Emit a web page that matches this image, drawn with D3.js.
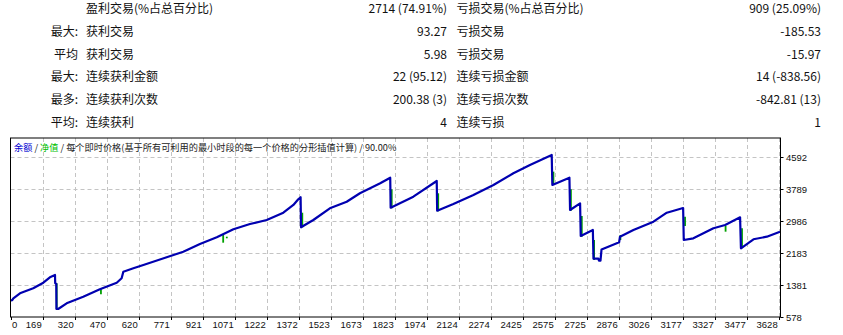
<!DOCTYPE html>
<html>
<head>
<meta charset="utf-8">
<script src="https://cdn.jsdelivr.net/npm/d3@7"></script>
<style>
  body { margin: 0; background: #fff; }
  svg { display: block; font-family: "Noto Sans CJK SC", "Noto Sans", sans-serif; }
</style>
</head>
<body>
<div id="report"></div>
<script>
  // stats table
  const rowPrefix = ['', '最大:', '平均', '最大:', '最多:', '平均:'];
  const winLabels = ['盈利交易(%占总百分比)', '获利交易', '获利交易', '连续获利金额', '连续获利次数', '连续获利'];
  const winValues = ['2714 (74.91%)', '93.27', '5.98', '22 (95.12)', '200.38 (3)', '4'];
  const lossLabels = ['亏损交易(%占总百分比)', '亏损交易', '亏损交易', '连续亏损金额', '连续亏损次数', '连续亏损'];
  const lossValues = ['909 (25.09%)', '-185.53', '-15.97', '14 (-838.56)', '-842.81 (13)', '1'];

  // axes
  const xTicks = [0, 169, 320, 470, 620, 771, 921, 1071, 1222, 1372, 1523, 1673, 1823, 1974,
    2124, 2274, 2425, 2575, 2725, 2876, 3026, 3177, 3327, 3477, 3628];
  const yTicks = [578, 1381, 2183, 2986, 3789, 4592];

  // balance curve [trade, value]
  const balance = [
    [0, 1000], [8, 1010], [14, 1055], [49, 1180], [119, 1306], [172, 1446], [203, 1582], [227, 1639],
    [228, 1431], [233, 1420], [234, 786], [242, 786], [282, 929], [360, 1095], [438, 1280], [517, 1446],
    [540, 1557], [548, 1722], [595, 1807], [642, 1890], [752, 2083], [830, 2224], [908, 2417], [987, 2585],
    [1065, 2786], [1143, 2919], [1222, 3019], [1300, 3202], [1347, 3396], [1370, 3539], [1381, 3589],
    [1383, 2836], [1441, 3019], [1519, 3312], [1598, 3478], [1660, 3689], [1755, 3940], [1802, 4081],
    [1804, 3328], [1911, 3604], [2021, 3998], [2023, 3253], [2099, 3421], [2193, 3647], [2287, 3897],
    [2381, 4191], [2459, 4399], [2561, 4650], [2564, 3897], [2644, 4081], [2647, 3270], [2694, 3438],
    [2697, 2618], [2754, 2768], [2757, 2050], [2780, 2050], [2783, 2000], [2790, 2000], [2795, 2280],
    [2867, 2435], [2878, 2460], [2882, 2600], [2945, 2768], [3039, 2977], [3102, 3202], [3179, 3320],
    [3182, 2517], [3227, 2560], [3321, 2811], [3376, 2894], [3446, 3087], [3450, 2309], [3509, 2535],
    [3572, 2600], [3634, 2726]
  ];

  // equity dips below balance [trade, from, to]
  const equityDips = [
    [235, 1431, 786], [443, 1280, 1155], [1017, 2642, 2450], [1034, 2600, 2560], [1389, 3202, 2836],
    [1809, 3790, 3313], [2028, 3689, 3236], [2569, 4232, 3897], [2651, 3790, 3253], [2702, 3120, 2600],
    [2760, 2517, 2016], [2884, 2643, 2517], [3188, 3102, 2869], [3378, 2869, 2726], [3455, 2811, 2309]
  ];

  const Report = {
    render() {
      const width = 843, height = 335;
      const svg = d3.select('#report').append('svg')
        .attr('width', width)
        .attr('height', height);

      // --- table ---
      const rowY = i => 8.5 + i * 22.85;
      const table = svg.append('g')
        .style('font-size', '12px')
        .style('fill', '#111');

      const cols = [
        { data: rowPrefix, x: 78, anchor: 'end' },
        { data: winLabels, x: 86, anchor: 'start' },
        { data: winValues, x: 447, anchor: 'end' },
        { data: lossLabels, x: 456.5, anchor: 'start' },
        { data: lossValues, x: 821, anchor: 'end' }
      ];
      cols.forEach(c => {
        table.selectAll(null)
          .data(c.data)
          .enter()
          .append('text')
          .attr('x', c.x)
          .attr('y', (d, i) => rowY(i))
          .attr('dy', '0.36em')
          .attr('text-anchor', c.anchor)
          .text(d => d);
      });

      // --- chart ---
      const box = { left: 10.5, top: 138, right: 780.5, bottom: 317 };
      const x = d3.scaleLinear()
        .domain(xTicks)
        .range(xTicks.map((d, i) => 10.7 + i * 32));
      const y = d3.scaleLinear()
        .domain([578, 4592])
        .range([317.3, 157.3]);

      const g = svg.append('g');

      // grid
      g.selectAll('.vgrid')
        .data(xTicks.slice(1))
        .enter()
        .append('line')
        .attr('x1', d => Math.round(x(d)) + 0.5)
        .attr('x2', d => Math.round(x(d)) + 0.5)
        .attr('y1', box.top)
        .attr('y2', box.bottom)
        .attr('stroke', '#c4c4c4')
        .attr('stroke-dasharray', '4,3');

      g.selectAll('.hgrid')
        .data(yTicks.slice(1))
        .enter()
        .append('line')
        .attr('x1', box.left)
        .attr('x2', box.right)
        .attr('y1', d => Math.round(y(d)) + 0.5)
        .attr('y2', d => Math.round(y(d)) + 0.5)
        .attr('stroke', '#c4c4c4')
        .attr('stroke-dasharray', '4,3');

      // equity dips (green) under the balance line
      g.selectAll('.dip')
        .data(equityDips)
        .enter()
        .append('line')
        .attr('x1', d => x(d[0]))
        .attr('x2', d => x(d[0]))
        .attr('y1', d => y(d[1]))
        .attr('y2', d => y(d[2]))
        .attr('stroke', '#00a000')
        .attr('stroke-width', 1.8);

      // balance line
      const line = d3.line()
        .x(d => x(d[0]))
        .y(d => y(d[1]));
      g.append('path')
        .datum(balance)
        .attr('d', line)
        .attr('fill', 'none')
        .attr('stroke', '#0000b0')
        .attr('stroke-width', 2.2)
        .attr('stroke-linejoin', 'round');

      // frame
      g.append('rect')
        .attr('x', box.left)
        .attr('y', box.top)
        .attr('width', box.right - box.left)
        .attr('height', box.bottom - box.top)
        .attr('fill', 'none')
        .attr('stroke', '#000')
        .attr('stroke-width', 1);

      // x axis ticks + labels
      g.selectAll('.xtick')
        .data(xTicks)
        .enter()
        .append('line')
        .attr('x1', d => Math.round(x(d)) + 0.5)
        .attr('x2', d => Math.round(x(d)) + 0.5)
        .attr('y1', box.bottom)
        .attr('y2', box.bottom + 3)
        .attr('stroke', '#000');

      g.selectAll('.xlabel')
        .data(xTicks)
        .enter()
        .append('text')
        .attr('x', (d, i) => i === 0 ? 12 : x(d) - 1)
        .attr('y', 328)
        .attr('text-anchor', (d, i) => i === 0 ? 'start' : 'end')
        .style('font-family', '"Liberation Sans", Arial, sans-serif')
        .style('font-size', '9.5px')
        .style('fill', '#111')
        .text(d => d);

      // y axis ticks + labels (right side)
      g.selectAll('.ytick')
        .data(yTicks)
        .enter()
        .append('line')
        .attr('x1', box.right)
        .attr('x2', box.right + 3)
        .attr('y1', d => Math.round(y(d)) + 0.5)
        .attr('y2', d => Math.round(y(d)) + 0.5)
        .attr('stroke', '#000');

      g.selectAll('.ylabel')
        .data(yTicks)
        .enter()
        .append('text')
        .attr('x', 786)
        .attr('y', d => y(d))
        .attr('dy', '0.35em')
        .style('font-family', '"Liberation Sans", Arial, sans-serif')
        .style('font-size', '9.5px')
        .style('fill', '#111')
        .text(d => d);

      // title
      const title = g.append('text')
        .attr('x', 14)
        .attr('y', 147.5)
        .attr('dy', '0.36em')
        .style('font-size', '9.2px')
        .style('fill', '#222');
      title.append('tspan').style('fill', '#0000d0').text('余额');
      title.append('tspan').text(' / ');
      title.append('tspan').style('fill', '#00c000').text('净值');
      title.append('tspan').text(' / 每个即时价格(基于所有可利用的最小时段的每一个价格的分形插值计算) / 90.00%');
    }
  };

  Report.render();
</script>
</body>
</html>
